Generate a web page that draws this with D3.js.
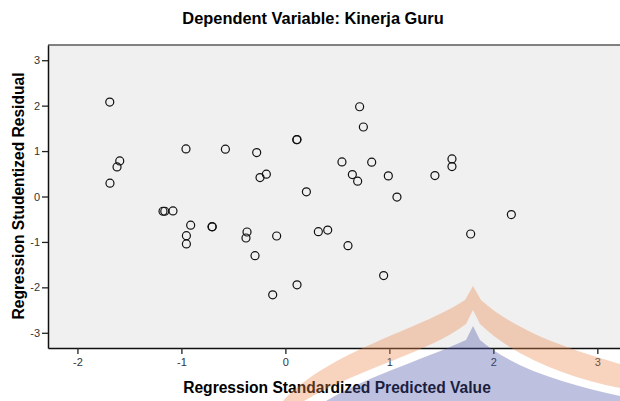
<!DOCTYPE html>
<html>
<head>
<meta charset="utf-8">
<script src="https://cdn.jsdelivr.net/npm/d3@7"></script>
<style>
  body { margin: 0; background: #fff; }
  text { font-family: "Liberation Sans", Arial, sans-serif; }
</style>
</head>
<body>
<div id="chart"></div>
<script>
// predicted (standardized) and studentized residual values
var predicted = [-1.689, -1.593, -1.619, -1.687, -1.177, -1.160, -1.081, -0.956, -0.911, -0.952,
                 -0.952, -0.706, -0.703, -0.577, -0.276, -0.244, -0.183, -0.369, -0.379, -0.084,
                 -0.292, -0.122, 0.109, 0.112, 0.202, 0.112, 0.317, 0.407, 0.544, 0.644,
                 0.695, 0.714, 0.750, 0.830, 0.602, 0.990, 1.073, 0.945, 1.438, 1.602,
                 1.602, 2.173, 1.782];
var residual = [2.079, 0.783, 0.652, 0.294, -0.325, -0.325, -0.318, 1.047, -0.632, -0.863,
                -1.045, -0.665, -0.667, 1.041, 0.966, 0.417, 0.492, -0.782, -0.913, -0.869,
                -1.302, -2.165, 1.251, 1.253, 0.103, -1.945, -0.775, -0.738, 0.762, 0.483,
                0.338, 1.976, 1.530, 0.755, -1.082, 0.454, -0.013, -1.741, 0.461, 0.828,
                0.659, -0.397, -0.825];
var xTicks = [-2, -1, 0, 1, 2, 3];
var yTicks = [-3, -2, -1, 0, 1, 2, 3];

var width = 620, height = 401;
var margin = {top: 45, right: 0, bottom: 53, left: 48};
var w = width - margin.left - margin.right;
var h = height - margin.top - margin.bottom;

var svg = d3.select("#chart").append("svg")
  .attr("width", width)
  .attr("height", height);

var xScale = d3.scaleLinear().domain([-2.283, 3.218]).range([0, w]);
var yScale = d3.scaleLinear().domain([-3.335, 3.335]).range([h, 0]);

var plot = svg.append("g")
  .attr("transform", "translate(" + margin.left + "," + margin.top + ")");

plot.append("rect")
  .attr("width", w).attr("height", h)
  .attr("fill", "#f0f0f0");

// top border
plot.append("line")
  .attr("x1", 0).attr("x2", w).attr("y1", 0).attr("y2", 0)
  .attr("stroke", "#5a5a5a").attr("stroke-width", 1.5);

var xAxis = plot.append("g")
  .attr("transform", "translate(0," + h + ")")
  .call(d3.axisBottom(xScale).tickValues(xTicks).tickSize(6).tickPadding(4).tickSizeOuter(0));
var yAxis = plot.append("g")
  .call(d3.axisLeft(yScale).tickValues(yTicks).tickSize(6).tickPadding(2).tickSizeOuter(0));

[xAxis, yAxis].forEach(function(a) {
  a.select(".domain").attr("stroke", "#111").attr("stroke-width", 1.5);
  a.selectAll(".tick line").attr("stroke", "#222").attr("stroke-width", 1.3);
  a.selectAll(".tick text").attr("fill", "#333").style("font-size", "11px")
    .style("font-family", "'Liberation Sans', Arial, sans-serif");
});
xAxis.selectAll(".tick text").text(d => d < 0 ? "-" + Math.abs(d) : d);
yAxis.selectAll(".tick text").text(d => d < 0 ? "-" + Math.abs(d) : d);

var pts = predicted.map(function(d, i) { return [d, residual[i]]; });
plot.append("g").selectAll("circle").data(pts)
  .enter().append("circle")
    .attr("cx", d => xScale(d[0]))
    .attr("cy", d => yScale(d[1]))
    .attr("r", 4)
    .attr("fill", "none")
    .attr("stroke", "#111")
    .attr("stroke-width", 1.2);

svg.append("text")
  .attr("x", 313).attr("y", 24)
  .attr("text-anchor", "middle")
  .style("font-size", "16.4px").style("font-weight", "bold")
  .text("Dependent Variable: Kinerja Guru");

svg.append("text")
  .attr("x", 337).attr("y", 393)
  .attr("text-anchor", "middle")
  .style("font-size", "15.6px").style("font-weight", "bold")
  .text("Regression Standardized Predicted Value");

svg.append("text")
  .attr("transform", "translate(24,196) rotate(-90)")
  .attr("text-anchor", "middle")
  .style("font-size", "15.6px").style("font-weight", "bold")
  .text("Regression Studentized Residual");

// faint watermark from the source page
var wm = svg.append("g").attr("opacity", 0.36);
wm.append("path")
  .attr("d", "M283,401 C330,350 420,330 465,300 L473,286 L481,300 C520,335 580,352 620,364 L620,388 C570,378 515,358 480,324 L473,310 L466,324 C430,352 360,368 304,401 Z")
  .attr("fill", "#ec8a4e");
wm.append("path")
  .attr("d", "M326,401 C370,375 435,355 466,340 L473,326 L480,340 C515,370 570,385 620,396 L620,401 Z")
  .attr("fill", "#4c56a8");
</script>
</body>
</html>
